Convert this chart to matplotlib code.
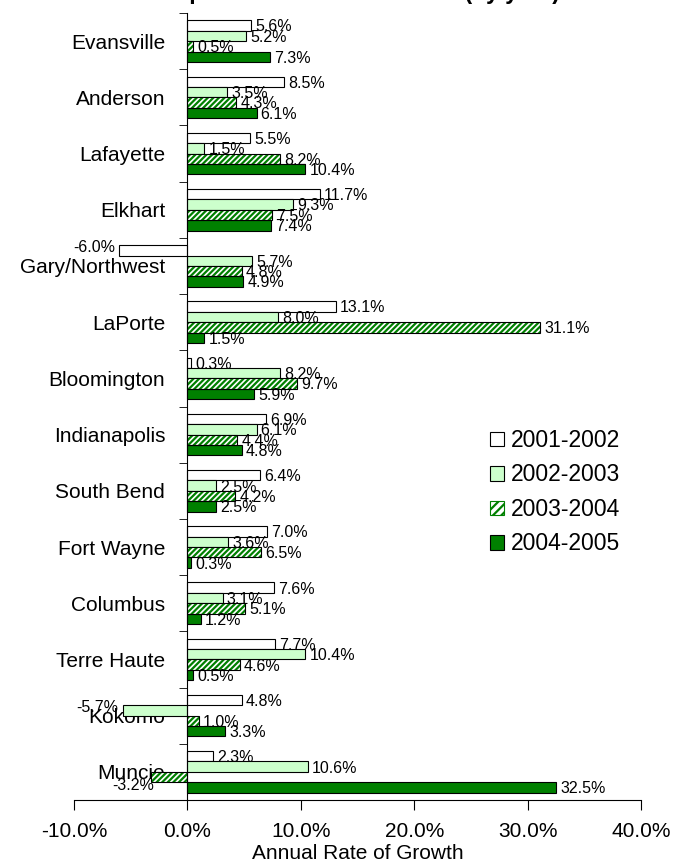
import numpy as np
import matplotlib
matplotlib.use('Agg')
import matplotlib.pyplot as plt
from matplotlib.patches import Patch
from matplotlib.ticker import FixedLocator

plt.rcParams['font.family'] = ['Liberation Sans', 'DejaVu Sans']
plt.rcParams['hatch.linewidth'] = 1.6

# Metro areas, top to bottom
areas = ['Evansville', 'Anderson', 'Lafayette', 'Elkhart', 'Gary/Northwest',
         'LaPorte', 'Bloomington', 'Indianapolis', 'South Bend', 'Fort Wayne',
         'Columbus', 'Terre Haute', 'Kokomo', 'Muncie']

periods = ['2001-2002', '2002-2003', '2003-2004', '2004-2005']

# Annual growth (%) per period
g_01_02 = [5.6, 8.5, 5.5, 11.7, -6.0, 13.1, 0.3, 6.9, 6.4, 7.0, 7.6, 7.7, 4.8, 2.3]
g_02_03 = [5.2, 3.5, 1.5, 9.3, 5.7, 8.0, 8.2, 6.1, 2.5, 3.6, 3.1, 10.4, -5.7, 10.6]
g_03_04 = [0.5, 4.3, 8.2, 7.5, 4.8, 31.1, 9.7, 4.4, 4.2, 6.5, 5.1, 4.6, 1.0, -3.2]
g_04_05 = [7.3, 6.1, 10.4, 7.4, 4.9, 1.5, 5.9, 4.8, 2.5, 0.3, 1.2, 0.5, 3.3, 32.5]

series = [g_01_02, g_02_03, g_03_04, g_04_05]

fig = plt.figure(figsize=(6.88, 8.67), dpi=100)
ax = fig.add_axes([74/688, 67/867, (641-74)/688, (800-13)/867])

y = np.arange(len(areas))
h = 0.185
green = '#008000'
light = '#CCFFCC'
hatch = '//////'

for i, vals in enumerate(series):
    pos = y + (i - 1.5) * h
    if i == 0:
        ax.barh(pos, vals, height=h, color='white', edgecolor='black', linewidth=0.8, zorder=3)
    elif i == 1:
        ax.barh(pos, vals, height=h, color=light, edgecolor='black', linewidth=0.8, zorder=3)
    elif i == 2:
        # hatch in green, outline drawn separately in black
        ax.barh(pos, vals, height=h, color='white', edgecolor=green, hatch=hatch,
                linewidth=0, zorder=3)
        ax.barh(pos, vals, height=h, fill=False, edgecolor='black', linewidth=0.8, zorder=4)
    else:
        ax.barh(pos, vals, height=h, color=green, edgecolor='black', linewidth=0.8, zorder=3)

    for p, v in zip(pos, vals):
        txt = f'{v:.1f}%'
        if v >= 0:
            ax.annotate(txt, (v, p), xytext=(3, -1), textcoords='offset points',
                        ha='left', va='center', fontsize=11.5, zorder=5)
        elif v > -4:
            ax.annotate(txt, (v, p), xytext=(2, -6), textcoords='offset points',
                        ha='right', va='center', fontsize=11.5, zorder=5)
        else:
            ax.annotate(txt, (v, p), xytext=(-3, 2), textcoords='offset points',
                        ha='right', va='center', fontsize=11.5, zorder=5)

ax.set_xlim(-10, 40)
ax.set_ylim(len(areas) - 0.5, -0.5)

ax.spines['top'].set_visible(False)
ax.spines['right'].set_visible(False)
ax.spines['left'].set_position(('data', 0))
ax.spines['left'].set_zorder(6)

ax.set_yticks(y)
ax.set_yticklabels(areas, fontsize=15)
ax.yaxis.set_minor_locator(FixedLocator(np.arange(-0.5, len(areas), 1)))
ax.tick_params(axis='y', which='major', length=0, pad=16)
ax.tick_params(axis='y', which='minor', length=6, direction='out')

xt = np.arange(-10, 41, 10)
ax.set_xticks(xt)
ax.set_xticklabels([f'{v:.1f}%' for v in xt], fontsize=15)
ax.tick_params(axis='x', length=7, pad=9)
ax.set_xlabel('Annual Rate of Growth', fontsize=15, labelpad=2)

handles = [
    Patch(facecolor='white', edgecolor='black', linewidth=0.8),
    Patch(facecolor=light, edgecolor='black', linewidth=0.8),
    Patch(facecolor='white', edgecolor=green, hatch='////', linewidth=0.8),
    Patch(facecolor=green, edgecolor='black', linewidth=0.8),
]
fig.legend(handles, periods, loc='upper left', bbox_to_anchor=(490/688, 1 - 429/867),
           frameon=False, fontsize=16.5, handlelength=0.6, handleheight=0.6,
           handletextpad=0.3, labelspacing=0.5, borderpad=0, borderaxespad=0)

fig.text(560/688, 1 + 1/867, 'Per Capita Income Growth Rate (by year)', ha='right',
         va='baseline', fontsize=16.5, fontweight='bold')

fig.savefig('out.png', dpi=100)
